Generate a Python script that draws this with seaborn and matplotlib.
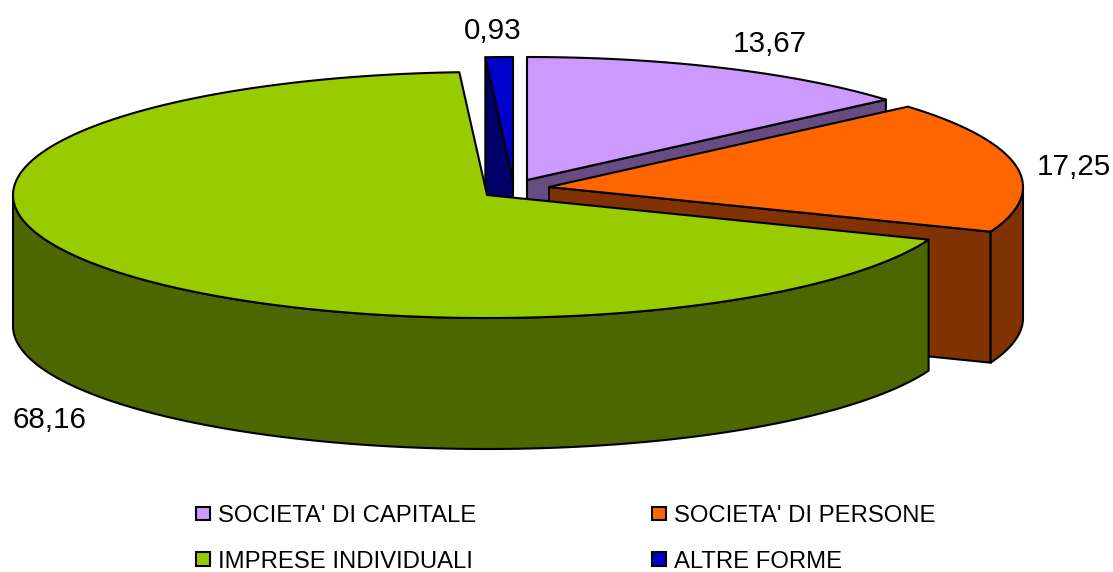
import numpy as np
import matplotlib
matplotlib.use("Agg")
import matplotlib.pyplot as plt
from matplotlib.patches import Patch, Polygon
import seaborn as sns

categories = ["SOCIETA' DI CAPITALE", "SOCIETA' DI PERSONE", "IMPRESE INDIVIDUALI", "ALTRE FORME"]
shares = [13.67, 17.25, 68.16, 0.93]
top_colors = ["#CC99FF", "#FF6600", "#99CC00", "#0000CC"]
side_colors = ["#664C80", "#803300", "#4C6600", "#000066"]

# layout of the pseudo-3D pie, in figure pixels
apexes = [(527, 180), (549, 187), (487, 195), (513, 180)]
label_pos = [(770, 44), (1074, 167), (49, 420), (493, 31)]
RX, RY, DEPTH = 474, 123, 131
LW = 1.5

sns.set_theme(style="white")
plt.rcParams["font.family"] = ["Liberation Sans", "DejaVu Sans"]

fig = plt.figure(figsize=(11.13, 5.72), dpi=100, facecolor="white")
ax = fig.add_axes([0, 0, 1, 1])
ax.set_xlim(0, 1113)
ax.set_ylim(572, 0)
ax.axis("off")


def rim(apex, a0, a1):
    t = np.radians(np.linspace(a0, a1, max(2, int(abs(a1 - a0) * 2) + 2)))
    return np.column_stack([apex[0] + RX * np.sin(t), apex[1] - RY * np.cos(t)])


def draw(points, color, z):
    ax.add_patch(Polygon(points, closed=True, facecolor=color, edgecolor="black",
                         linewidth=LW, joinstyle="round", zorder=z))


def cut_face(apex, angle, color, z):
    edge = rim(apex, angle, angle)[[0, -1]]
    a = np.array(apex, float)
    b = edge[0]
    down = np.array([0, DEPTH])
    draw(np.array([a, b, b + down, a + down]), color, z)


edges = np.concatenate([[0], np.cumsum(shares)]) / np.sum(shares) * 360
paint_order = [3, 0, 1, 2]
z = 1
for i in paint_order:
    a0, a1 = edges[i], edges[i + 1]
    apex = apexes[i]
    if 180 < a0 < 360:
        cut_face(apex, a0, side_colors[i], z)
    if 0 < a1 < 180:
        cut_face(apex, a1, side_colors[i], z)
    w0, w1 = max(a0, 90), min(a1, 270)
    if w1 > w0:
        arc = rim(apex, w0, w1)
        draw(np.vstack([arc, arc[::-1] + [0, DEPTH]]), side_colors[i], z + 1)
    draw(np.vstack([[apex], rim(apex, a0, a1)]), top_colors[i], z + 2)
    z += 3

for value, (x, y) in zip(shares, label_pos):
    ax.text(x, y, f"{value:.2f}".replace(".", ","), ha="center", va="center",
            fontsize=21.3, color="black", zorder=50)

palette = sns.color_palette(top_colors)
handles = [Patch(facecolor=palette[i], edgecolor="black", linewidth=LW, label=categories[i])
           for i in [0, 2, 1, 3]]
ax.legend(handles=handles, ncol=2, loc="upper left", bbox_to_anchor=(196 / 1113, 1 - 505 / 572),
          frameon=False, fontsize=17.2, labelcolor="black", handlelength=0.58, handleheight=0.52,
          handletextpad=0.32, columnspacing=7.38, labelspacing=1.0, borderpad=0, borderaxespad=0)

fig.savefig("out.png", dpi=100, facecolor="white")
